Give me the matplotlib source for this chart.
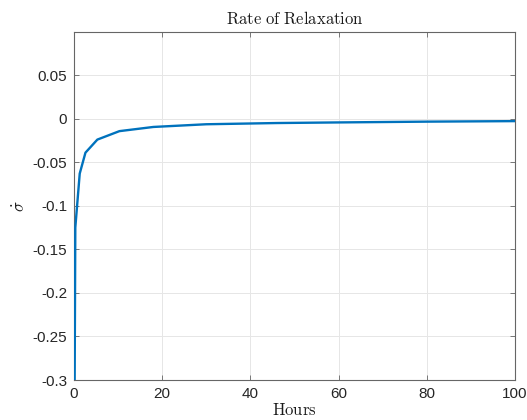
import matplotlib
matplotlib.use("Agg")
import matplotlib.pyplot as plt

# Relaxation rate over time
hours = [0.05, 0.3, 1.3, 2.6, 5.3, 10.3, 18, 30, 46, 60, 80, 100]
rate = [-0.42, -0.125, -0.063, -0.039, -0.024, -0.0143, -0.0095, -0.0064,
        -0.0050, -0.0043, -0.0034, -0.0028]

x_ticks = [0, 20, 40, 60, 80, 100]
y_ticks = [-0.3, -0.25, -0.2, -0.15, -0.1, -0.05, 0, 0.05]
y_tick_labels = ["-0.3", "-0.25", "-0.2", "-0.15", "-0.1", "-0.05", "0", "0.05"]

plt.rcParams["mathtext.fontset"] = "cm"
plt.rcParams["font.family"] = ["Liberation Sans", "DejaVu Sans"]

fig = plt.figure(figsize=(5.27, 4.20), dpi=100)
ax = fig.add_axes([0.1404, 0.0952, 0.8368, 0.8286])

ax.plot(hours, rate, color="#0072BD", linewidth=1.7, zorder=3)

ax.set_xlim(0, 100)
ax.set_ylim(-0.3, 0.0995)
ax.set_xticks(x_ticks)
ax.set_yticks(y_ticks)
ax.set_yticklabels(y_tick_labels)

spine_color = "#666666"
for s in ax.spines.values():
    s.set_color(spine_color)
    s.set_linewidth(0.8)
ax.tick_params(direction="in", length=3.5, width=0.6, colors=spine_color,
               labelcolor="#262626", labelsize=11, top=True, right=True,
               pad=5)
ax.grid(True, color="#e6e6e6", linewidth=0.7)
ax.set_axisbelow(True)

ax.set_title(r"$\mathrm{Rate\ of\ Relaxation}$", fontsize=12, pad=6,
             color="#1a1a1a")
ax.set_xlabel(r"$\mathrm{Hours}$", fontsize=12, labelpad=1, color="#1a1a1a")
ax.set_ylabel(r"$\dot{\sigma}$", fontsize=12, labelpad=4, color="#1a1a1a",
              rotation=90)

fig.savefig("out.png", dpi=100)
